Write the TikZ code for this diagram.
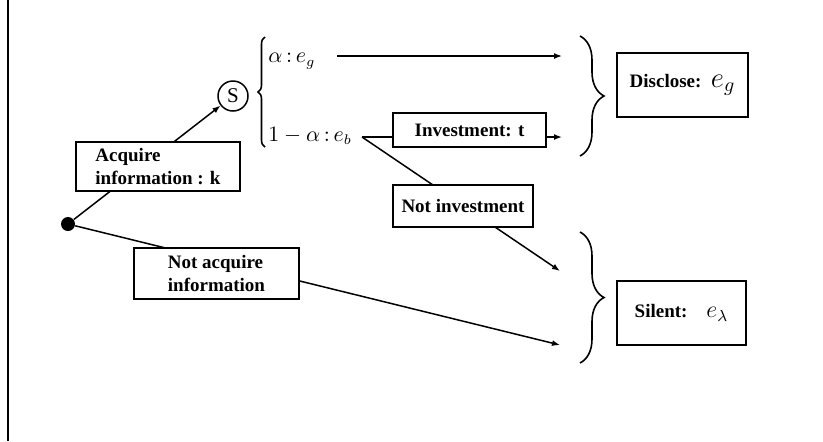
\documentclass[tikz,border=0pt]{standalone}
\usepackage{fontspec}
\setmainfont{Liberation Serif}
\usetikzlibrary{arrows.meta,decorations.pathreplacing}

\tikzset{
  labelbox/.style={draw, line width=1pt, fill=white, align=left,
    font=\fontsize{9.5}{11.5}\selectfont\bfseries, inner xsep=4pt, inner ysep=2pt},
  branch/.style={line width=0.75pt},
  tip/.style={-{Latex[length=4pt,width=3pt]}},
  bracket/.style={decorate, decoration={brace, amplitude=#1}, line width=0.8pt},
  mathlabel/.style={font=\fontsize{10.5}{12}\selectfont, inner sep=0pt}
}

\begin{document}
\begin{tikzpicture}[x=0.5pt,y=-0.5pt]

        \useasboundingbox (0,0) rectangle (823,441);
        \draw[line width=1.2pt] (8,0) -- (8,441);

        \node[circle, fill=black, minimum size=7pt, inner sep=0pt] (root) at (68,224) {};
        \node[circle, draw, line width=0.75pt, minimum size=15pt, inner sep=0pt,
              font=\fontsize{10.5}{12}\selectfont] (signal) at (233,96) {S};

        \node[mathlabel, anchor=west] (good) at (268,61) {$\alpha\,{:}\,e_g$};
        \node[mathlabel, anchor=west] (bad) at (268,136) {$1-\alpha\,{:}\,e_b$};

        \coordinate (goodstart) at (337,56);
        \coordinate (split) at (362,137);
        \coordinate (goodend) at (562,56);
        \coordinate (investend) at (562,137);
        \coordinate (noinvestend) at (560,271);
        \coordinate (silentend) at (560,345);

        \draw[branch,tip] (root) -- (signal);
        \draw[branch,tip] (root) -- (silentend);
        \draw[branch,tip] (goodstart) -- (goodend);
        \draw[branch,tip] (split) -- (investend);
        \draw[branch,tip] (split) -- (noinvestend);

        \node[labelbox, minimum width=82pt, minimum height=24.5pt] (acquire) at (158,166.5) {Acquire\\ information : k};
        \node[labelbox, minimum width=82.5pt, minimum height=25.5pt] (notacquire) at (216.5,273.5) {Not acquire\\information};
        \node[labelbox, minimum width=76.5pt, minimum height=17pt] (invest) at (469.5,130) {Investment: t};
        \node[labelbox, minimum width=70pt, minimum height=21pt] (noinvest) at (463,206) {Not investment};

        \draw[bracket=3.5pt] (265,147) -- (265,37);
        \draw[bracket=12pt] (580,36) -- (580,156);
        \draw[bracket=12pt] (580,232) -- (580,363);

        \node[labelbox, minimum width=65.5pt, minimum height=32pt] (disclose) at (682.5,85) {Disclose:\enspace{\Large$e_g$}};
        \node[labelbox, minimum width=64.5pt, minimum height=32pt] (silent) at (681.5,313) {Silent:\quad{\large$e_\lambda$}};

\end{tikzpicture}
\end{document}
